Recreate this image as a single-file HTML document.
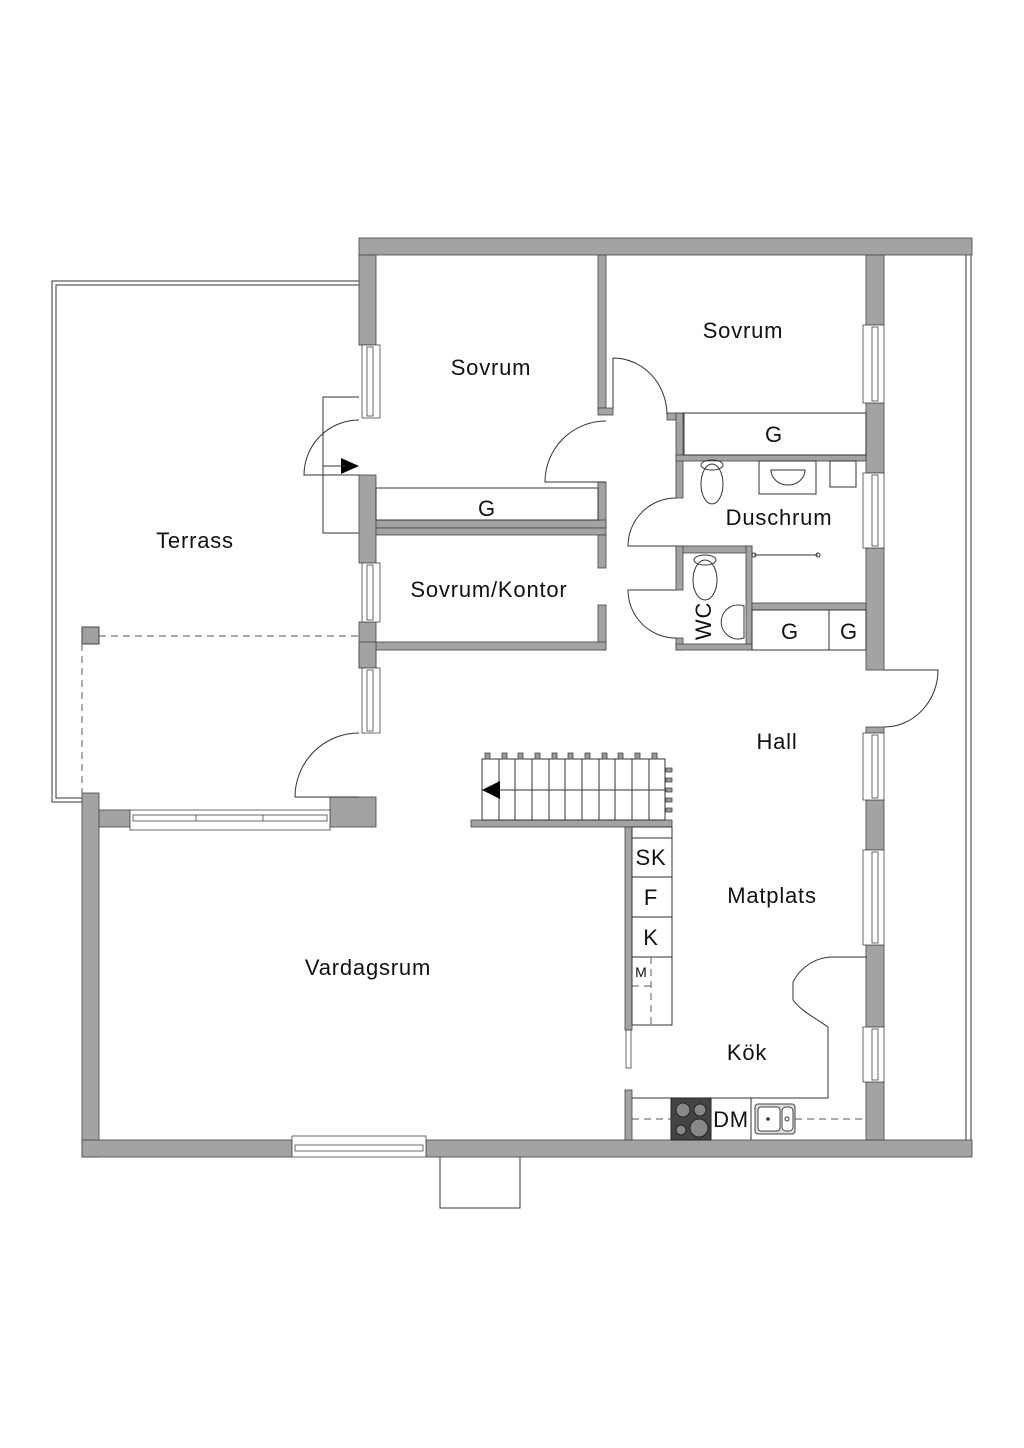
<!DOCTYPE html>
<html><head><meta charset="utf-8"><style>
html,body{margin:0;padding:0;background:#fff;}
svg{display:block;}
text{font-family:"Liberation Sans",sans-serif;fill:#111;}
</style></head><body>
<svg width="1024" height="1448" viewBox="0 0 1024 1448" xmlns="http://www.w3.org/2000/svg">
<rect width="1024" height="1448" fill="#fff"/>
<g fill="none" stroke="#333" stroke-width="1">
<polyline points="359,281 52,281 52,802 82,802"/>
<polyline points="359,285 56,285 56,798 82,798"/>
<line x1="966" y1="255" x2="966" y2="1140"/>
<line x1="971" y1="255" x2="971" y2="1140"/>
<polyline points="440,1157 440,1208 520,1208 520,1157"/>
<polyline points="359,397 323,397 323,533 359,533"/>
</g>
<g stroke="#777" stroke-width="1.2" stroke-dasharray="7,5" fill="none">
<line x1="99" y1="636" x2="359" y2="636"/>
<line x1="82" y1="644" x2="82" y2="793"/>
<line x1="632" y1="1119" x2="671" y2="1119"/>
<line x1="795" y1="1119" x2="866" y2="1119"/>
<line x1="651" y1="957" x2="651" y2="1025"/>
<line x1="632" y1="986" x2="651" y2="986"/>
</g>
<rect x="82" y="627" width="17" height="17" fill="#a0a0a0" stroke="#444"/>

<g fill="#a3a3a3" stroke="#444" stroke-width="0.8">
<rect x="359" y="238" width="613" height="17"/>
<rect x="359" y="255" width="17" height="90"/>
<rect x="359" y="475" width="17" height="88"/>
<rect x="359" y="622" width="17" height="46"/>
<rect x="330" y="797" width="46" height="30"/>
<rect x="82" y="793" width="17" height="364"/>
<rect x="99" y="810" width="31" height="17"/>
<rect x="82" y="1140" width="210" height="17"/>
<rect x="426" y="1140" width="546" height="17"/>
<rect x="866" y="255" width="18" height="70"/>
<rect x="866" y="403" width="18" height="70"/>
<rect x="866" y="548" width="18" height="122"/>
<rect x="866" y="727" width="18" height="6"/>
<rect x="866" y="800" width="18" height="50"/>
<rect x="866" y="945" width="18" height="82"/>
<rect x="866" y="1082" width="18" height="58"/>
<rect x="598" y="255" width="8" height="153"/>
<rect x="598" y="408" width="15" height="7"/>
<rect x="598" y="482" width="8" height="46"/>
<rect x="376" y="520" width="230" height="8"/>
<rect x="376" y="528" width="230" height="7"/>
<rect x="598" y="535" width="8" height="33"/>
<rect x="598" y="605" width="8" height="45"/>
<rect x="376" y="642" width="230" height="8"/>
<rect x="359" y="642" width="17" height="26"/>
<rect x="667" y="413" width="17" height="7"/>
<rect x="676" y="413" width="7" height="85"/>
<rect x="676" y="455" width="190" height="6"/>
<rect x="676" y="546" width="76" height="7"/>
<rect x="676" y="546" width="7" height="44"/>
<rect x="676" y="638" width="7" height="12"/>
<rect x="746" y="546" width="6" height="104"/>
<rect x="676" y="644" width="76" height="6"/>
<rect x="752" y="603" width="114" height="7"/>
<rect x="471" y="820" width="201" height="7"/>
<rect x="625" y="827" width="7" height="203"/>
<rect x="625" y="1090" width="7" height="50"/>
</g>

<g fill="#fff" stroke="#444" stroke-width="0.8">
<rect x="362" y="345" width="18" height="73"/><rect x="367" y="347" width="6" height="69"/>
<rect x="362" y="563" width="18" height="59"/><rect x="367" y="565" width="6" height="55"/>
<rect x="362" y="668" width="18" height="65"/><rect x="367" y="670" width="6" height="61"/>
<rect x="863" y="325" width="21" height="78"/><rect x="872" y="327" width="6" height="74"/>
<rect x="863" y="473" width="21" height="75"/><rect x="872" y="475" width="6" height="71"/>
<rect x="863" y="733" width="21" height="67"/><rect x="872" y="735" width="6" height="63"/>
<rect x="863" y="850" width="21" height="95"/><rect x="872" y="852" width="6" height="91"/>
<rect x="863" y="1027" width="21" height="55"/><rect x="872" y="1029" width="6" height="51"/>
<rect x="130" y="810" width="200" height="20"/><rect x="133" y="815" width="194" height="6"/>
<line x1="196" y1="815" x2="196" y2="821"/><line x1="263" y1="815" x2="263" y2="821"/>
<rect x="292" y="1136" width="134" height="21"/><rect x="295" y="1145" width="128" height="6"/>
<rect x="626" y="1030" width="5" height="38"/>
</g>

<g fill="none" stroke="#333" stroke-width="1">
<path d="M359,420 A55,55 0 0 0 304,475 L359,475"/>
<path d="M359,733 A64,64 0 0 0 295,797 L359,797"/>
<path d="M613,358 A54,57 0 0 1 667,415 M613,358 L613,408"/>
<path d="M606,421 A61,61 0 0 0 545,482 L606,482"/>
<path d="M676,498 A48,48 0 0 0 628,546 L676,546"/>
<path d="M676,590 L628,590 A48,48 0 0 0 676,638"/>
<path d="M884,670 L938,670 A54,57 0 0 1 884,727"/>
<rect x="376" y="488" width="222" height="32"/>
<rect x="684" y="413" width="182" height="42"/>
<rect x="752" y="610" width="114" height="40"/><line x1="829" y1="610" x2="829" y2="650"/>
<rect x="759" y="461" width="57" height="33"/>
<path d="M771,470 A17,15 0 0 0 805,470 Z"/>
<rect x="830" y="461" width="26" height="26"/>
<ellipse cx="712" cy="465" rx="11" ry="5"/>
<ellipse cx="712" cy="484" rx="11" ry="20"/>
<ellipse cx="705" cy="560" rx="11" ry="5"/>
<ellipse cx="705" cy="580" rx="12" ry="20"/>
<path d="M744,606 A17,17 0 1 0 744,638 Z"/>
<line x1="754" y1="555" x2="818" y2="555"/>
<circle cx="754" cy="555" r="2"/><circle cx="818" cy="555" r="2"/>
<rect x="482" y="759" width="183" height="61"/>
<line x1="482" y1="790" x2="665" y2="790"/>
<path d="M499,759V820M515,759V820M532,759V820M549,759V820M565,759V820M582,759V820M599,759V820M615,759V820M632,759V820M649,759V820"/>
<rect x="632" y="827" width="40" height="198"/>
<path d="M632,838H672M632,877H672M632,917H672M632,957H672"/>
<path d="M867,957 L833,957 C815,957 800,968 793,982 L793,1000 C800,1010 815,1018 828,1027 L828,1098 L632,1098"/>
<line x1="751" y1="1098" x2="751" y2="1140"/>
<line x1="711" y1="1098" x2="711" y2="1140"/>
</g>
<g fill="#999" stroke="#444" stroke-width="0.8">
<path d="M485,753h5v6h-5zM502,753h5v6h-5zM518,753h5v6h-5zM535,753h5v6h-5zM552,753h5v6h-5zM568,753h5v6h-5zM585,753h5v6h-5zM602,753h5v6h-5zM618,753h5v6h-5zM635,753h5v6h-5zM652,753h5v6h-5z"/>
<path d="M666,768h6v4h-6zM666,778h6v4h-6zM666,788h6v4h-6zM666,798h6v4h-6zM666,808h6v4h-6z"/>
</g>
<path d="M482,790 L500,781 L500,799 Z" fill="#000"/>
<path d="M359,466 L341,458 L341,474 Z" fill="#000"/>
<line x1="323" y1="466" x2="345" y2="466" stroke="#333"/>
<rect x="671" y="1098" width="40" height="42" fill="#444" stroke="#222"/>
<g fill="#888" stroke="#222"><circle cx="683" cy="1110" r="7"/><circle cx="700" cy="1110" r="6"/><circle cx="681" cy="1130" r="5"/><circle cx="699" cy="1128" r="9"/></g>
<rect x="755" y="1104" width="40" height="30" rx="3" fill="#ddd" stroke="#444"/>
<rect x="758" y="1107" width="22" height="24" rx="3" fill="#fff" stroke="#444"/>
<rect x="782" y="1107" width="11" height="24" rx="4" fill="#fff" stroke="#444"/>
<circle cx="768" cy="1119" r="1.8" fill="#333"/><circle cx="787" cy="1119" r="2" fill="none" stroke="#333"/>

<g font-size="22" text-anchor="middle" letter-spacing="0.8">
<text x="491" y="375">Sovrum</text>
<text x="743" y="338">Sovrum</text>
<text x="774" y="442">G</text>
<text x="487" y="516">G</text>
<text x="779" y="525">Duschrum</text>
<text x="489" y="597">Sovrum/Kontor</text>
<text x="195" y="548">Terrass</text>
<text x="777" y="749">Hall</text>
<text x="772" y="903">Matplats</text>
<text x="368" y="975">Vardagsrum</text>
<text x="747" y="1060">Kök</text>
<text x="790" y="639">G</text>
<text x="849" y="639">G</text>
<text x="651" y="865">SK</text>
<text x="651" y="905">F</text>
<text x="651" y="945">K</text>
<text x="731" y="1127">DM</text>
<text x="0" y="0" transform="translate(711,621) rotate(-90)">WC</text>
<text x="641" y="977" font-size="14" letter-spacing="0">M</text>
</g>
</svg>
</body></html>
